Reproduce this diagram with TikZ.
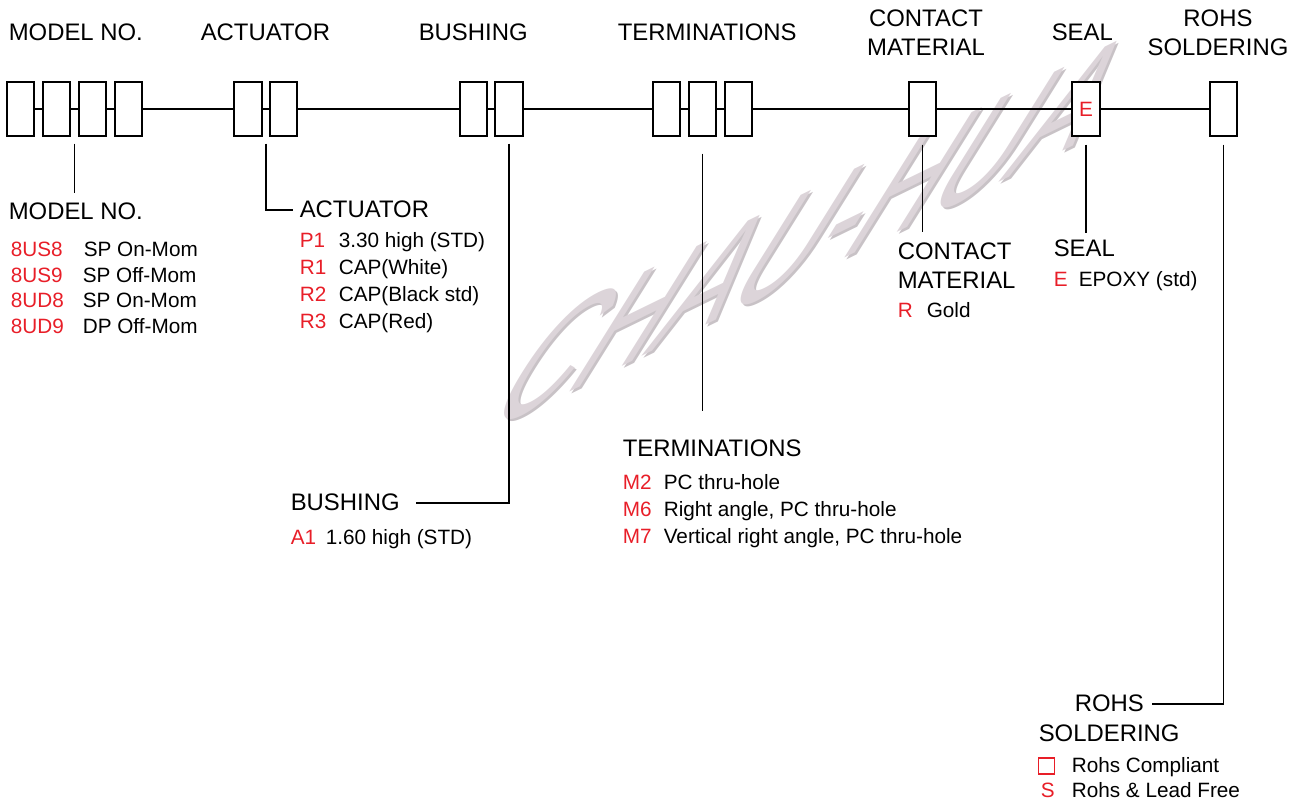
\documentclass[tikz,border=0pt]{standalone}
\usepackage{fontspec}
\setmainfont{Liberation Sans}
\usetikzlibrary{positioning,calc}
\definecolor{codered}{RGB}{232,30,40}
\definecolor{markgray}{RGB}{220,212,217}
\definecolor{markshade}{RGB}{200,194,198}
\tikzset{slot node/.style={rectangle,draw,fill=white,line width=1.1pt,minimum width=0.55cm,minimum height=1.07cm,inner sep=0pt},
  head node/.style={inner sep=0pt,anchor=base west,font=\fontsize{13.6}{16.6}\selectfont},
  code node/.style={inner sep=0pt,anchor=base west,text=codered,font=\fontsize{11.8}{14}\selectfont},
  item node/.style={inner sep=0pt,anchor=base west,font=\fontsize{11.8}{14}\selectfont}}

\begin{document}
\begin{tikzpicture}[x=0.02cm,y=-0.02cm,line width=0.9pt,
        mark node/.style={inner sep=0pt,font=\fontsize{62}{70}\selectfont,rotate=26,xslant=1.6,xscale=1.15}]
   \useasboundingbox (0,0) rectangle (1303,803);
   % watermark
   \node[mark node,text=markshade] (shade) at (816,233) {CHAU-HUA};
   \node[mark node,text=markgray] (mark) at (814,231) {CHAU-HUA};

   % code slots
   \node[slot node] (m1) at (20.5,109) {};
   \node[slot node] (m2) at (56.5,109) {};
   \node[slot node] (m3) at (92.5,109) {};
   \node[slot node] (m4) at (128.5,109) {};
   \node[slot node] (a1) at (248,109) {};
   \node[slot node] (a2) at (283.5,109) {};
   \node[slot node] (b1) at (473.5,109) {};
   \node[slot node] (b2) at (509,109) {};
   \node[slot node] (t1) at (666.5,109) {};
   \node[slot node] (t2) at (702.5,109) {};
   \node[slot node] (t3) at (738.5,109) {};
   \node[slot node] (c1) at (922.5,109) {};
   \node[slot node,text=codered,font=\fontsize{11.8}{14}\selectfont] (s1) at (1086,109) {E};
   \node[slot node] (r1) at (1223.5,109) {};
   \draw (m1) -- (m2) -- (m3) -- (m4) -- (a1) -- (a2) -- (b1) -- (b2) -- (t1) -- (t2) -- (t3) -- (c1) -- (s1) -- (r1);

   % top titles
   \node[head node] (tmodel) at (8,41) {MODEL NO.};
   \node[head node] (tact) at (200,41) {ACTUATOR};
   \node[head node] (tbush) at (418,41) {BUSHING};
   \node[head node] (tterm) at (617,41) {TERMINATIONS};
   \node[head node,anchor=base,align=center] (tcontact) at (926,56) {CONTACT\\MATERIAL};
   \node[head node] (tseal) at (1051,41) {SEAL};
   \node[head node,anchor=base,align=center] (trohs) at (1218,56) {ROHS\\SOLDERING};

   % model no.
   \node[head node] (bmodel) at (8,220) {MODEL NO.};
   \node[code node] (mc1) at (10,257) {8US8};
   \node[item node] (md1) at (83,257) {SP On-Mom};
   \node[code node] (mc2) at (10,283) {8US9};
   \node[item node] (md2) at (82,283) {SP Off-Mom};
   \node[code node] (mc3) at (10,308) {8UD8};
   \node[item node] (md3) at (82,308) {SP On-Mom};
   \node[code node] (mc4) at (10,334) {8UD9};
   \node[item node] (md4) at (82,334) {DP Off-Mom};

   % actuator
   \node[head node] (bact) at (299,218) {ACTUATOR};
   \node[code node] (ac1) at (299,248) {P1};
   \node[item node] (ad1) at (338,248) {3.30 high (STD)};
   \node[code node] (ac2) at (299,275) {R1};
   \node[item node] (ad2) at (338,275) {CAP(White)};
   \node[code node] (ac3) at (299,302) {R2};
   \node[item node] (ad3) at (338,302) {CAP(Black std)};
   \node[code node] (ac4) at (299,329) {R3};
   \node[item node] (ad4) at (338,329) {CAP(Red)};

   % bushing
   \node[head node] (bbush) at (290,511) {BUSHING};
   \node[code node] (bc1) at (290,545) {A1};
   \node[item node] (bd1) at (325,545) {1.60 high (STD)};

   % terminations
   \node[head node] (bterm) at (622,457) {TERMINATIONS};
   \node[code node] (tc1) at (622,490) {M2};
   \node[item node] (td1) at (663,490) {PC thru-hole};
   \node[code node] (tc2) at (622,517) {M6};
   \node[item node] (td2) at (663,517) {Right angle, PC thru-hole};
   \node[code node] (tc3) at (622,544) {M7};
   \node[item node] (td3) at (663,544) {Vertical right angle, PC thru-hole};

   % contact material
   \node[head node,align=left] (bcontact) at (897,289) {CONTACT\\MATERIAL};
   \node[code node] (cc1) at (897,318) {R};
   \node[item node] (cd1) at (926,318) {Gold};

   % seal
   \node[head node] (bseal) at (1053,257) {SEAL};
   \node[code node] (sc1) at (1053,287) {E};
   \node[item node] (sd1) at (1078,287) {EPOXY (std)};

   % rohs soldering
   \node[head node] (brohs) at (1074,712) {ROHS};
   \node[head node] (bsold) at (1038,742) {SOLDERING};
   \node[draw=codered,line width=0.8pt,minimum size=0.32cm,inner sep=0pt] (rsq) at (1046.5,766) {};
   \node[item node] (rd1) at (1071,773) {Rohs Compliant};
   \node[code node] (rc2) at (1040,798) {S};
   \node[item node] (rd2) at (1071,798) {Rohs \& Lead Free};

   % leaders
   \coordinate (mtap) at ($(m2.south east)!.5!(m3.south west)+(0,7)$);
   \coordinate (atap) at ($(a1.south east)!.5!(a2.south west)+(0,7)$);
   \coordinate (btap) at ($(b2.south)+(0,7)$);
   \coordinate (ttap) at ($(t2.south)+(0,17)$);
   \coordinate (ctap) at ($(c1.south)+(0,8)$);
   \coordinate (stap) at ($(s1.south)+(0,8)$);
   \coordinate (rtap) at ($(r1.south)+(0,8)$);
   \draw[shorten >=0.2cm] (mtap) -- (mtap |- bmodel.north);
   \draw[shorten >=0.12cm] (atap) |- (bact.west);
   \draw[shorten >=0.32cm] (btap) |- (bbush.east);
   \draw[shorten >=0.58cm] (ttap) -- (ttap |- bterm.north);
   \draw[shorten >=0.2cm] (ctap) -- (ctap |- bcontact.north);
   \draw[shorten >=0.14cm] (stap) -- (stap |- bseal.north);
   \draw[shorten >=0.14cm] (rtap) |- (brohs.east);
\end{tikzpicture}
\end{document}
